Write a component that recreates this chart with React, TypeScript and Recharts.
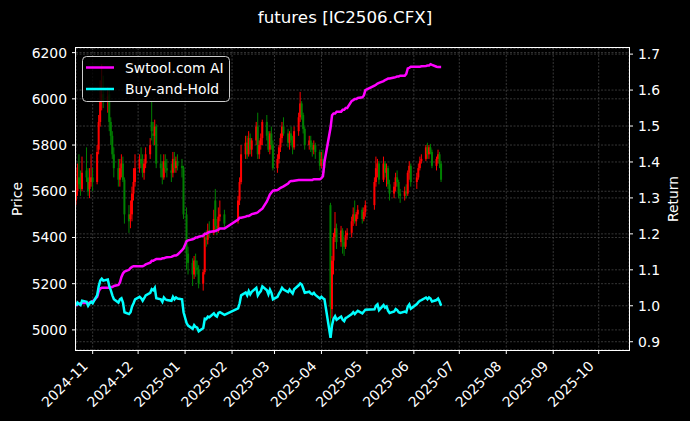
import { ComposedChart, Bar, Line, XAxis, YAxis, CartesianGrid } from 'recharts'

// trading days of IC2506.CFX shown in the chart
const tradeDates = [
  // 2024-10
  '2024-10-21', '2024-10-22', '2024-10-23', '2024-10-24', '2024-10-25', '2024-10-28', '2024-10-29', '2024-10-30', '2024-10-31',
  // 2024-11
  '2024-11-01', '2024-11-04', '2024-11-05', '2024-11-06', '2024-11-07', '2024-11-08', '2024-11-11', '2024-11-12', '2024-11-13',
  '2024-11-14', '2024-11-15', '2024-11-18', '2024-11-19', '2024-11-20', '2024-11-21', '2024-11-22', '2024-11-25', '2024-11-26',
  '2024-11-27', '2024-11-28', '2024-11-29',
  // 2024-12
  '2024-12-02', '2024-12-03', '2024-12-04', '2024-12-05', '2024-12-06', '2024-12-09', '2024-12-10', '2024-12-11', '2024-12-12',
  '2024-12-13', '2024-12-16', '2024-12-17', '2024-12-18', '2024-12-19', '2024-12-20', '2024-12-23', '2024-12-24', '2024-12-25',
  '2024-12-26', '2024-12-27', '2024-12-30', '2024-12-31',
  // 2025-01
  '2025-01-02', '2025-01-03', '2025-01-06', '2025-01-07', '2025-01-08', '2025-01-09', '2025-01-10', '2025-01-13', '2025-01-14',
  '2025-01-15', '2025-01-16', '2025-01-17', '2025-01-20', '2025-01-21', '2025-01-22', '2025-01-23', '2025-01-24', '2025-01-27',
  // 2025-02
  '2025-02-05', '2025-02-06', '2025-02-07', '2025-02-10', '2025-02-11', '2025-02-12', '2025-02-13', '2025-02-14', '2025-02-17',
  '2025-02-18', '2025-02-19', '2025-02-20', '2025-02-21', '2025-02-24', '2025-02-25', '2025-02-26', '2025-02-27', '2025-02-28',
  // 2025-03
  '2025-03-03', '2025-03-04', '2025-03-05', '2025-03-06', '2025-03-07', '2025-03-10', '2025-03-11', '2025-03-12', '2025-03-13',
  '2025-03-14', '2025-03-17', '2025-03-18', '2025-03-19', '2025-03-20', '2025-03-21', '2025-03-24', '2025-03-25', '2025-03-26',
  '2025-03-27', '2025-03-28', '2025-03-31',
  // 2025-04
  '2025-04-01', '2025-04-02', '2025-04-03', '2025-04-07', '2025-04-08', '2025-04-09', '2025-04-10', '2025-04-11', '2025-04-14',
  '2025-04-15', '2025-04-16', '2025-04-17', '2025-04-18', '2025-04-21', '2025-04-22', '2025-04-23', '2025-04-24', '2025-04-25',
  '2025-04-28', '2025-04-29', '2025-04-30',
  // 2025-05
  '2025-05-06', '2025-05-07', '2025-05-08', '2025-05-09', '2025-05-12', '2025-05-13', '2025-05-14', '2025-05-15', '2025-05-16',
  '2025-05-19', '2025-05-20', '2025-05-21', '2025-05-22', '2025-05-23', '2025-05-26', '2025-05-27', '2025-05-28', '2025-05-29',
  '2025-05-30',
  // 2025-06
  '2025-06-03', '2025-06-04', '2025-06-05', '2025-06-06', '2025-06-09', '2025-06-10', '2025-06-11', '2025-06-12', '2025-06-13',
  '2025-06-16', '2025-06-17', '2025-06-18', '2025-06-19',
]

const openPrices = [
  5560, 5600, 5660, 5640, 5610, 5690, 5660, 5610, 5640,
  5660, 5640, 5780, 5900, 5990, 6020, 5990, 6020, 5900, 5840, 5760, 5700, 5650, 5700, 5720, 5650, 5500, 5480, 5500, 5590, 5640,
  5700, 5740, 5720, 5680, 5720, 5760, 5900, 5850, 5840, 5880, 5720, 5700, 5660, 5730, 5700, 5690, 5680, 5740, 5700, 5730, 5710, 5700,
  5500, 5330, 5290, 5240, 5300, 5270, 5260, 5200, 5250, 5400, 5390, 5430, 5420, 5560, 5450, 5430, 5490, 5500,
  5470, 5560, 5640, 5760, 5810, 5760, 5830, 5780, 5820, 5880, 5760, 5800, 5830, 5900, 5840, 5780, 5850, 5800,
  5700, 5740, 5790, 5830, 5880, 5850, 5810, 5850, 5820, 5790, 5860, 5920, 5980, 5930, 5870, 5800, 5820, 5790, 5780, 5800, 5770,
  5710, 5740, 5720, 5540, 5090, 5300, 5400, 5440, 5380, 5430, 5380, 5360, 5410, 5420, 5470, 5500, 5470, 5500, 5520, 5480, 5510,
  5540, 5640, 5700, 5720, 5650, 5720, 5680, 5700, 5630, 5590, 5620, 5660, 5640, 5590, 5580, 5600, 5590, 5680, 5710,
  5640, 5660, 5700, 5730, 5740, 5790, 5760, 5790, 5770, 5710, 5740, 5760, 5720,
]

const highPrices = [
  5700, 5720, 5760, 5690, 5750, 5790, 5700, 5700, 5760,
  5700, 5800, 5930, 6080, 6150, 6100, 6050, 6040, 5920, 5860, 5790, 5740, 5740, 5760, 5750, 5660, 5540, 5560, 5620, 5700, 5760,
  5760, 5790, 5760, 5740, 5790, 5830, 5990, 5900, 5910, 5890, 5760, 5730, 5760, 5760, 5740, 5720, 5770, 5770, 5750, 5760, 5740, 5710,
  5530, 5360, 5310, 5320, 5330, 5300, 5280, 5260, 5420, 5430, 5460, 5470, 5520, 5610, 5480, 5530, 5560, 5520,
  5580, 5660, 5800, 5840, 5840, 5860, 5850, 5830, 5900, 5940, 5820, 5850, 5910, 5930, 5860, 5860, 5880, 5820,
  5760, 5800, 5850, 5900, 5920, 5870, 5860, 5880, 5840, 5880, 5940, 6030, 5990, 5940, 5880, 5840, 5840, 5810, 5820, 5810, 5780,
  5770, 5780, 5750, 5550, 5320, 5420, 5510, 5460, 5450, 5440, 5400, 5430, 5440, 5490, 5530, 5560, 5510, 5540, 5530, 5530, 5560,
  5660, 5750, 5740, 5730, 5750, 5730, 5720, 5710, 5650, 5640, 5680, 5690, 5650, 5610, 5620, 5630, 5690, 5730, 5720,
  5680, 5720, 5750, 5760, 5800, 5810, 5800, 5805, 5780, 5750, 5780, 5770, 5730,
]

const lowPrices = [
  5540, 5580, 5610, 5580, 5600, 5640, 5580, 5570, 5620,
  5600, 5630, 5760, 5880, 5950, 5960, 5940, 5860, 5800, 5740, 5660, 5620, 5620, 5660, 5640, 5460, 5420, 5440, 5470, 5560, 5620,
  5680, 5700, 5660, 5650, 5700, 5740, 5820, 5800, 5800, 5700, 5660, 5630, 5650, 5680, 5660, 5640, 5660, 5680, 5680, 5690, 5660, 5480,
  5260, 5240, 5190, 5220, 5230, 5240, 5180, 5170, 5240, 5360, 5370, 5400, 5410, 5430, 5410, 5420, 5470, 5440,
  5460, 5540, 5630, 5740, 5740, 5750, 5760, 5750, 5800, 5740, 5740, 5780, 5800, 5820, 5770, 5760, 5780, 5690,
  5680, 5720, 5770, 5810, 5840, 5790, 5780, 5800, 5760, 5780, 5840, 5900, 5910, 5850, 5780, 5780, 5770, 5750, 5760, 5740, 5690,
  5700, 5710, 5680, 4990, 5050, 5240, 5380, 5350, 5360, 5330, 5320, 5350, 5390, 5400, 5450, 5460, 5450, 5480, 5460, 5470, 5490,
  5520, 5620, 5660, 5630, 5640, 5660, 5620, 5610, 5560, 5570, 5600, 5620, 5570, 5550, 5560, 5570, 5580, 5650, 5620,
  5610, 5650, 5690, 5720, 5730, 5740, 5740, 5760, 5700, 5690, 5720, 5700, 5640,
]

const closePrices = [
  5600, 5650, 5630, 5610, 5680, 5660, 5600, 5640, 5660,
  5640, 5770, 5900, 5990, 6020, 5990, 6010, 5900, 5840, 5760, 5700, 5650, 5700, 5720, 5650, 5500, 5470, 5500, 5590, 5640, 5700,
  5740, 5720, 5680, 5720, 5760, 5800, 5860, 5840, 5880, 5720, 5700, 5660, 5730, 5700, 5690, 5680, 5740, 5700, 5730, 5710, 5700, 5500,
  5330, 5290, 5240, 5300, 5270, 5260, 5200, 5250, 5400, 5390, 5430, 5420, 5480, 5450, 5430, 5490, 5500, 5460,
  5560, 5640, 5760, 5810, 5760, 5830, 5780, 5820, 5880, 5760, 5800, 5830, 5900, 5840, 5780, 5850, 5800, 5700,
  5740, 5790, 5830, 5880, 5850, 5810, 5850, 5820, 5790, 5860, 5920, 5980, 5930, 5870, 5800, 5820, 5790, 5780, 5800, 5770, 5710,
  5740, 5720, 5700, 5100, 5300, 5400, 5440, 5380, 5430, 5380, 5360, 5410, 5420, 5470, 5500, 5470, 5500, 5520, 5480, 5510, 5540,
  5640, 5700, 5720, 5650, 5720, 5680, 5700, 5630, 5590, 5620, 5660, 5640, 5590, 5580, 5600, 5590, 5680, 5710, 5640,
  5660, 5700, 5730, 5740, 5790, 5760, 5790, 5770, 5710, 5740, 5760, 5720, 5650,
]

// strategy return (right axis)
const aiReturn = [
  1.000, 1.004, 1.006, 1.006, 1.008, 1.008, 1.007, 1.009, 1.010,
  1.012, 1.025, 1.040, 1.048, 1.050, 1.050, 1.050, 1.050, 1.052, 1.052, 1.055, 1.058, 1.065, 1.080, 1.090, 1.095, 1.100, 1.105, 1.108, 1.110, 1.110,
  1.110, 1.110, 1.110, 1.112, 1.115, 1.120, 1.125, 1.125, 1.128, 1.130, 1.130, 1.132, 1.132, 1.134, 1.135, 1.136, 1.138, 1.140, 1.140, 1.142, 1.155, 1.160,
  1.180, 1.182, 1.185, 1.187, 1.190, 1.190, 1.192, 1.195, 1.200, 1.200, 1.203, 1.205, 1.207, 1.208, 1.210, 1.212, 1.215, 1.215,
  1.240, 1.245, 1.245, 1.248, 1.250, 1.250, 1.252, 1.255, 1.258, 1.260, 1.264, 1.267, 1.270, 1.290, 1.300, 1.310, 1.315, 1.320,
  1.322, 1.325, 1.328, 1.330, 1.332, 1.340, 1.345, 1.347, 1.347, 1.348, 1.350, 1.350, 1.350, 1.350, 1.350, 1.350, 1.350, 1.350, 1.352, 1.352, 1.352,
  1.355, 1.360, 1.400, 1.495, 1.530, 1.535, 1.535, 1.540, 1.540, 1.545, 1.545, 1.550, 1.550, 1.570, 1.572, 1.575, 1.575, 1.578, 1.580, 1.585, 1.600,
  1.612, 1.615, 1.618, 1.620, 1.625, 1.628, 1.630, 1.632, 1.632, 1.635, 1.636, 1.638, 1.638, 1.640, 1.640, 1.645, 1.660, 1.662, 1.665,
  1.665, 1.665, 1.665, 1.666, 1.667, 1.668, 1.668, 1.672, 1.670, 1.665, 1.664, 1.664, 1.664,
]

// buy-and-hold return (right axis)
const holdReturn = [
  1.000, 1.009, 1.005, 1.002, 1.014, 1.011, 1.000, 1.007, 1.011,
  1.007, 1.030, 1.054, 1.070, 1.075, 1.070, 1.073, 1.054, 1.043, 1.029, 1.018, 1.009, 1.018, 1.021, 1.009, 0.982, 0.977, 0.982, 0.998, 1.007, 1.018,
  1.025, 1.021, 1.014, 1.021, 1.029, 1.036, 1.046, 1.043, 1.050, 1.021, 1.018, 1.011, 1.023, 1.018, 1.016, 1.014, 1.025, 1.018, 1.023, 1.020, 1.018, 0.982,
  0.952, 0.945, 0.936, 0.946, 0.941, 0.939, 0.929, 0.938, 0.964, 0.963, 0.970, 0.968, 0.979, 0.973, 0.970, 0.980, 0.982, 0.975,
  0.993, 1.007, 1.029, 1.037, 1.029, 1.041, 1.032, 1.039, 1.050, 1.029, 1.036, 1.041, 1.054, 1.043, 1.032, 1.045, 1.036, 1.018,
  1.025, 1.034, 1.041, 1.050, 1.045, 1.038, 1.045, 1.039, 1.034, 1.046, 1.057, 1.062, 1.059, 1.048, 1.036, 1.039, 1.034, 1.032, 1.036, 1.030, 1.020,
  1.025, 1.021, 1.018, 0.911, 0.946, 0.964, 0.971, 0.961, 0.970, 0.961, 0.957, 0.966, 0.968, 0.977, 0.982, 0.977, 0.982, 0.986, 0.979, 0.984, 0.989,
  0.990, 1.000, 1.004, 0.988, 1.002, 0.995, 0.998, 0.986, 0.980, 0.984, 0.991, 0.988, 0.982, 0.980, 0.984, 0.982, 0.998, 1.004, 0.992,
  1.005, 1.010, 1.014, 1.016, 1.023, 1.018, 1.023, 1.020, 1.012, 1.016, 1.020, 1.012, 1.000,
]

const monthTicks = ['2024-11', '2024-12', '2025-01', '2025-02', '2025-03', '2025-04', '2025-05', '2025-06', '2025-07', '2025-08', '2025-09', '2025-10']
const priceTicks = [5000, 5200, 5400, 5600, 5800, 6000, 6200]
const returnTicks = [0.9, 1.0, 1.1, 1.2, 1.3, 1.4, 1.5, 1.6, 1.7]

const toTime = (d: string) => Date.parse(d + 'T00:00:00Z')
const monthLabel = (t: number) => {
  const d = new Date(t)
  return `${d.getUTCFullYear()}-${String(d.getUTCMonth() + 1).padStart(2, '0')}`
}

const chartData = tradeDates.map((d, i) => ({
  t: toTime(d),
  open: openPrices[i],
  high: highPrices[i],
  low: lowPrices[i],
  close: closePrices[i],
  range: [lowPrices[i], highPrices[i]],
  ai: aiReturn[i],
  hold: holdReturn[i],
}))

const FONT = 'DejaVu Sans, sans-serif'
const W = 690
const H = 421

function Candle(props: any) {
  const { x, y, width, height, payload } = props
  if (payload == null || height == null) return null
  const top = Math.min(y, y + height)
  const h = Math.abs(height)
  const { open, close, high, low } = payload
  const color = close >= open ? '#ff0000' : '#008000'
  const span = high - low || 1
  const yOf = (v: number) => top + ((high - v) / span) * h
  const cx = x + width / 2
  const bTop = yOf(Math.max(open, close))
  const bBot = yOf(Math.min(open, close))
  return (
    <g>
      <line x1={cx} x2={cx} y1={top} y2={top + h} stroke={color} strokeWidth={1} />
      <rect x={cx - 1} y={bTop} width={2} height={Math.max(bBot - bTop, 0.8)} fill={color} />
    </g>
  )
}

function DateTick({ x, y, payload }: any) {
  const tx = x - 4
  const ty = y + 11
  return (
    <text x={tx} y={ty} textAnchor="end" fill="#fff" fontSize={13.9} fontFamily={FONT}
      transform={`rotate(-45 ${tx} ${ty})`}>
      {monthLabel(payload.value)}
    </text>
  )
}

export default function App() {
  return (
    <div style={{ position: 'absolute', left: 0, top: 0, width: W, height: H, background: '#000', fontFamily: FONT }}>
      <ComposedChart width={W} height={H} data={chartData} margin={{ top: 48, right: 0, bottom: 0, left: 0 }}>
        <CartesianGrid yAxisId="left" stroke="#444" strokeDasharray="2 1.5" strokeWidth={0.8} />
        <CartesianGrid yAxisId="right" vertical={false} stroke="#444" strokeDasharray="2 1.5" strokeWidth={0.8} />
        <XAxis
          dataKey="t"
          type="number"
          domain={[toTime('2024-10-21'), toTime('2025-10-21')]}
          ticks={monthTicks.map(m => toTime(m + '-01'))}
          interval={0}
          tick={<DateTick />}
          height={71}
          axisLine={false}
          tickLine={{ stroke: '#fff' }}
          tickSize={4}
          tickMargin={2}
          allowDataOverflow
        />
        <YAxis
          yAxisId="left"
          orientation="left"
          domain={[4913, 6220]}
          ticks={priceTicks}
          interval={0}
          width={76}
          axisLine={false}
          tickLine={{ stroke: '#fff' }}
          tickSize={4}
          tickMargin={5}
          tick={{ fill: '#fff', fontSize: 13.9 }}
          allowDataOverflow
        />
        <YAxis
          yAxisId="right"
          orientation="right"
          domain={[0.877, 1.717]}
          ticks={returnTicks}
          interval={0}
          tickFormatter={(v: number) => v.toFixed(1)}
          width={61}
          axisLine={false}
          tickLine={{ stroke: '#fff' }}
          tickSize={4}
          tickMargin={5}
          tick={{ fill: '#fff', fontSize: 13.9 }}
          allowDataOverflow
        />
        <Bar yAxisId="left" dataKey="range" shape={<Candle />} barSize={2} isAnimationActive={false} />
        <Line yAxisId="right" dataKey="ai" stroke="#ff00ff" strokeWidth={2.5} dot={false} isAnimationActive={false} />
        <Line yAxisId="right" dataKey="hold" stroke="#00ffff" strokeWidth={2.5} dot={false} isAnimationActive={false} />
      </ComposedChart>
      <svg width={W} height={H} style={{ position: 'absolute', left: 0, top: 0, pointerEvents: 'none' }}>
        <rect x={75.5} y={47.5} width={554} height={303} fill="none" stroke="#fff" strokeWidth={1} />
        <text x={345} y={17} textAnchor="middle" dominantBaseline="central" fill="#fff" fontSize={16.7} fontFamily={FONT}>
          futures [IC2506.CFX]
        </text>
        <text x={17} y={199} textAnchor="middle" dominantBaseline="central" fill="#fff" fontSize={13.9} fontFamily={FONT}
          transform="rotate(-90 17 199)">Price</text>
        <text x={673} y={199} textAnchor="middle" dominantBaseline="central" fill="#fff" fontSize={13.9} fontFamily={FONT}
          transform="rotate(-90 673 199)">Return</text>
        <g>
          <rect x={82.5} y={56.5} width={147} height={45} rx={4} fill="rgba(0,0,0,0.8)" stroke="#ccc" strokeWidth={1} />
          <line x1={86} x2={114} y1={67.5} y2={67.5} stroke="#ff00ff" strokeWidth={2.5} />
          <text x={125} y={67.5} dominantBaseline="central" fill="#fff" fontSize={13.9} fontFamily={FONT}>Swtool.com AI</text>
          <line x1={86} x2={114} y1={89} y2={89} stroke="#00ffff" strokeWidth={2.5} />
          <text x={125} y={89} dominantBaseline="central" fill="#fff" fontSize={13.9} fontFamily={FONT}>Buy-and-Hold</text>
        </g>
      </svg>
    </div>
  )
}
